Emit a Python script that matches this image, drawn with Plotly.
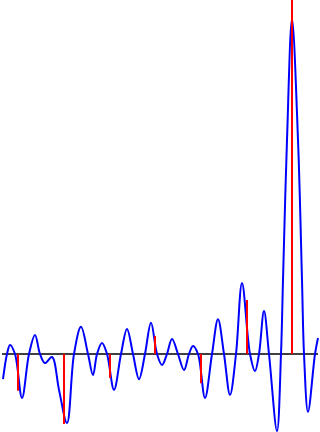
import plotly.graph_objects as go

# Continuous signal (extrema and zero crossings), amplitude units
curve_t = [3, 7, 10, 15, 22, 29, 35, 40, 45, 52, 59, 67, 74, 81, 88, 93, 97, 102, 107,
           114, 121, 127, 133, 139, 145, 151, 157, 162, 167, 172, 178, 184, 189, 193,
           198, 205, 212, 218, 224, 230, 236, 242, 250, 255, 259, 264, 269, 277, 281,
           283, 287, 292, 298, 302, 304, 308, 315, 318]
curve_v = [-0.075, 0.0, 0.027, 0.0, -0.131, 0.0, 0.057, 0.0, -0.027, -0.009, -0.107,
           -0.206, 0.0, 0.081, 0.0, -0.063, 0.0, 0.033, 0.0,
           -0.107, 0.0, 0.075, 0.0, -0.075, 0.0, 0.093, 0.0, -0.033, 0.0, 0.045, 0.0,
           -0.048, 0.0, 0.024, 0.0, -0.131, 0.0, 0.104, 0.0, -0.122, 0.0, 0.212, 0.0,
           -0.051, 0.0, 0.128, 0.0, -0.230, 0.0, 0.221, 0.639, 1.0, 0.639, 0.221, 0.0,
           -0.173, 0.0, 0.048]

# Samples (stems)
sample_t = [18, 64, 110, 155, 201, 247, 292]
sample_v = [-0.110, -0.209, -0.072, 0.054, -0.087, 0.161, 1.06]

axis_t = [2, 318]

stem_x, stem_y = [], []
for t, v in zip(sample_t, sample_v):
    stem_x += [t, t, None]
    stem_y += [0, v, None]

fig = go.Figure()
fig.add_trace(go.Scatter(x=axis_t, y=[0, 0], mode="lines",
                         line=dict(color="black", width=1.6), hoverinfo="skip"))
fig.add_trace(go.Scatter(x=curve_t, y=curve_v, mode="lines",
                         line=dict(color="#0000ff", width=2, shape="spline", smoothing=1.0),
                         hoverinfo="skip"))
fig.add_trace(go.Scatter(x=stem_x, y=stem_y, mode="lines",
                         line=dict(color="#ff0000", width=2), hoverinfo="skip"))

fig.update_layout(
    width=320, height=432,
    margin=dict(l=0, r=0, t=0, b=0),
    paper_bgcolor="white", plot_bgcolor="white",
    showlegend=False,
    xaxis=dict(range=[0, 320], visible=False, fixedrange=True),
    yaxis=dict(range=[(354 - 432) / 335, 354 / 335], visible=False, fixedrange=True),
)
fig.write_html("out.html", config={"displayModeBar": False})
